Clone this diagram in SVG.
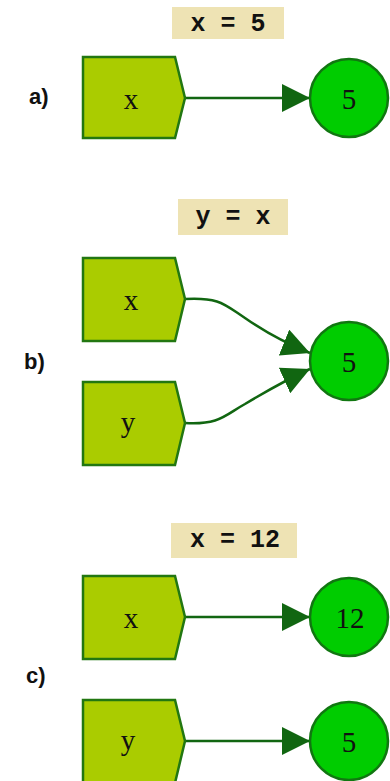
<svg xmlns="http://www.w3.org/2000/svg" width="390" height="781" viewBox="0 0 390 781">
<defs>
<style>
.var{fill:#aacc00;stroke:#227711;stroke-width:2.5}
.val{fill:#00cc00;stroke:#117711;stroke-width:2.5}
.lbl{fill:#eee3b4}
.code{font-family:"Liberation Mono",monospace;font-weight:bold;font-size:25px;fill:#111;text-anchor:middle}
.t{font-family:"Liberation Serif",serif;font-size:29px;fill:#111;text-anchor:middle}
.sec{font-family:"Liberation Sans",sans-serif;font-weight:bold;font-size:22px;fill:#111}
.edge{fill:none;stroke:#116611;stroke-width:2.5}
</style>
<marker id="arr" markerWidth="28" markerHeight="28" viewBox="0 0 28 28" refX="28" refY="14" orient="auto" markerUnits="userSpaceOnUse">
<path d="M0,0 L28,14 L0,28 Z" fill="#116611"/>
</marker>
</defs>
<rect width="390" height="781" fill="#fff"/>

<g id="label-a"><rect class="lbl" x="172" y="7" width="112" height="32"/><text class="code" x="228" y="31">x = 5</text></g>
<g id="label-b"><rect class="lbl" x="178" y="199" width="110" height="36"/><text class="code" x="233" y="224">y = x</text></g>
<g id="label-c"><rect class="lbl" x="171" y="523" width="126" height="35"/><text class="code" x="235" y="547">x = 12</text></g>

<text class="sec" x="29" y="104">a)</text>
<text class="sec" x="24" y="369">b)</text>
<text class="sec" x="26" y="683">c)</text>

<g id="edges">
<path class="edge" d="M185,98 L310,98" marker-end="url(#arr)"/>
<path class="edge" d="M185,299 C220,297 225,305 245,318 C265,332 290,345 310,353" marker-end="url(#arr)"/>
<path class="edge" d="M185,423 C220,425 225,415 245,404 C265,392 290,378 310,369" marker-end="url(#arr)"/>
<path class="edge" d="M185,617 L310,617" marker-end="url(#arr)"/>
<path class="edge" d="M185,741 L310,741" marker-end="url(#arr)"/>
</g>

<g id="a-x"><path class="var" d="M83,57 L175,57 L185,98 L175,138 L83,138 Z"/><text class="t" x="131" y="109">x</text></g>
<g id="a-5"><circle class="val" cx="349" cy="98" r="39"/><text class="t" x="349" y="109">5</text></g>

<g id="b-x"><path class="var" d="M83,258 L175,258 L185,299 L175,341 L83,341 Z"/><text class="t" x="131" y="310">x</text></g>
<g id="b-y"><path class="var" d="M83,382 L175,382 L185,423 L175,465 L83,465 Z"/><text class="t" x="128" y="432">y</text></g>
<g id="b-5"><circle class="val" cx="349" cy="361" r="39"/><text class="t" x="349" y="372">5</text></g>

<g id="c-x"><path class="var" d="M83,576 L175,576 L185,617 L175,659 L83,659 Z"/><text class="t" x="131" y="628">x</text></g>
<g id="c-12"><circle class="val" cx="349" cy="617" r="39"/><text class="t" x="350" y="628">12</text></g>
<g id="c-y"><path class="var" d="M83,700 L175,700 L185,741 L175,783 L83,783 Z"/><text class="t" x="128" y="750">y</text></g>
<g id="c-5"><circle class="val" cx="349" cy="741" r="39"/><text class="t" x="349" y="752">5</text></g>
</svg>
